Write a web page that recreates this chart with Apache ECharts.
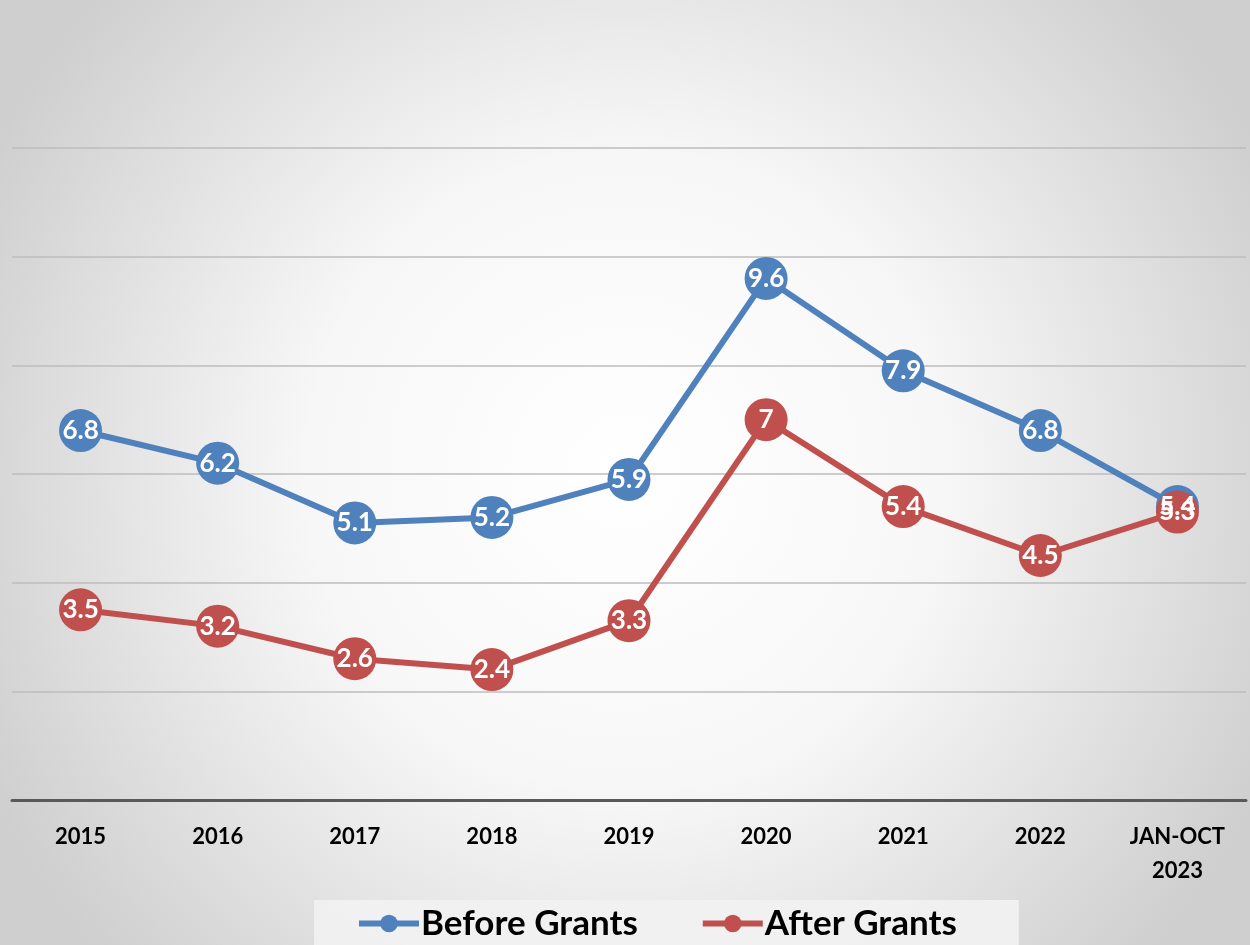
<!DOCTYPE html>
<html>
<head>
    <meta charset="utf-8"/>
    <script src="https://cdn.jsdelivr.net/npm/echarts@6/dist/echarts.min.js"></script>
    <style>
        html, body { margin: 0; padding: 0; }
    </style>
</head>
<body>
<div id="main" style="width: 1250px;height:945px;"></div>
<script type="text/javascript">
    var categories = ['2015', '2016', '2017', '2018', '2019', '2020', '2021', '2022', 'JAN-OCT\n2023'];
    var beforeGrants = [6.8, 6.2, 5.1, 5.2, 5.9, 9.6, 7.9, 6.8, 5.4];
    var afterGrants = [3.5, 3.2, 2.6, 2.4, 3.3, 7, 5.4, 4.5, 5.3];

    var myChart = echarts.init(document.getElementById('main'));

    var labelStyle = {
        show: true,
        position: 'inside',
        color: '#ffffff',
        fontFamily: 'Lato',
        fontWeight: 'bold',
        fontSize: 26
    };

    var option = {
        backgroundColor: new echarts.graphic.RadialGradient(0.5, 0.5, 0.75, [
            { offset: 0, color: '#ffffff' },
            { offset: 0.45, color: '#f7f7f7' },
            { offset: 1, color: '#cfcfcf' }
        ]),
        grid: {
            top: 148,
            bottom: 145,
            left: 12,
            right: 4
        },
        legend: {
            bottom: 0,
            left: 314,
            itemGap: 62,
            itemWidth: 60,
            itemHeight: 22,
            padding: [6, 62, 4, 42],
            backgroundColor: 'rgba(242,242,242,0.9)',
            lineStyle: { width: 6 },
            textStyle: {
                color: '#000000',
                fontFamily: 'Lato',
                fontWeight: 'bold',
                fontSize: 35,
                padding: [0, 0, 0, -3]
            },
            data: ['Before Grants', 'After Grants']
        },
        xAxis: {
            type: 'category',
            data: categories,
            axisTick: { show: false },
            axisLine: {
                lineStyle: { color: '#595959', width: 3 }
            },
            axisLabel: {
                margin: 20,
                color: '#000000',
                fontFamily: 'Lato',
                fontWeight: 'bold',
                fontSize: 22,
                lineHeight: 34
            }
        },
        yAxis: {
            type: 'value',
            min: 0,
            max: 12,
            interval: 2,
            axisLabel: { show: false },
            axisLine: { show: false },
            axisTick: { show: false },
            splitLine: {
                lineStyle: { color: '#bdbdbd', width: 1.5 }
            }
        },
        series: [{
            name: 'Before Grants',
            type: 'line',
            data: beforeGrants,
            symbol: 'circle',
            symbolSize: 43,
            lineStyle: { color: '#4f81bd', width: 6 },
            itemStyle: { color: '#4f81bd' },
            label: labelStyle
        }, {
            name: 'After Grants',
            type: 'line',
            data: afterGrants,
            symbol: 'circle',
            symbolSize: 43,
            lineStyle: { color: '#c0504d', width: 6 },
            itemStyle: { color: '#c0504d' },
            label: labelStyle
        }]
    };

    myChart.setOption(option);
</script>
</body>
</html>
